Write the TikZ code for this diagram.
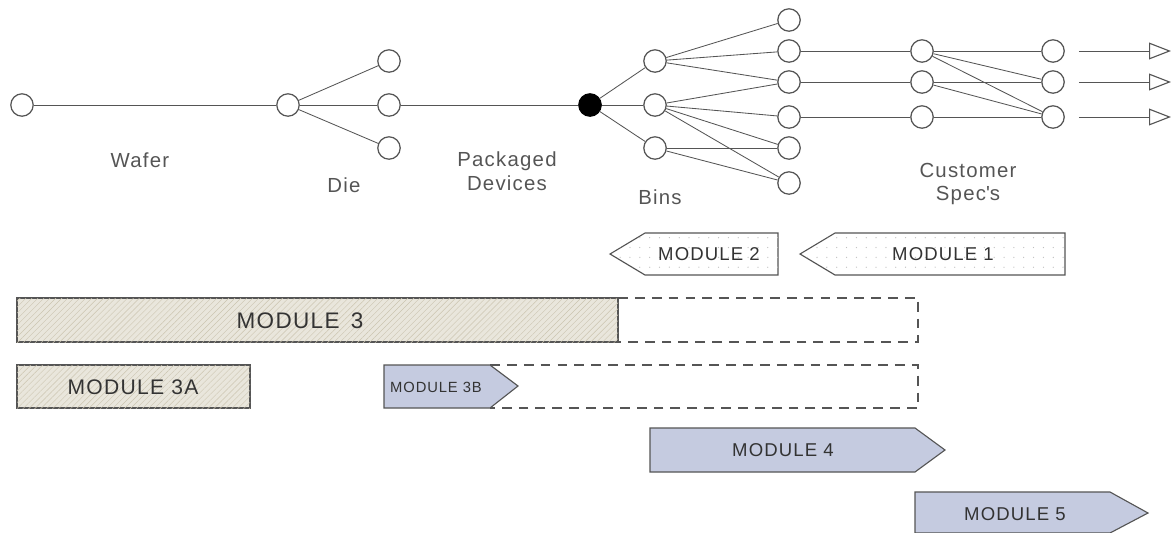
\documentclass[tikz,border=0pt]{standalone}
\usepackage{fontspec}
\setmainfont{Liberation Sans}[LetterSpace=6]
\usetikzlibrary{arrows.meta, patterns.meta}
\definecolor{inkgray}{HTML}{555555}
\definecolor{sand}{HTML}{E9E6DC}
\definecolor{sandline}{HTML}{CBC4B0}
\definecolor{slate}{HTML}{C5CBE0}
\tikzset{
	lot/.style={circle, draw=inkgray, line width=0.9pt, fill=white, minimum size=0.56cm, inner sep=0pt}, % estados del lote
	pkg/.style={lot, fill=black, draw=black}, % dispositivo encapsulado
	flow/.style={draw=inkgray, line width=0.6pt}, % arcos del arbol
	lbl/.style={text=inkgray, font=\fontsize{14.5}{17}\selectfont, align=center},
	modtext/.style={text=black!80, font=\fontsize{13.2}{15}\selectfont},
	sandbox/.style={fill=sand, draw=inkgray, line width=0.8pt,
		postaction={pattern={Lines[angle=45,distance=3pt,line width=0.3pt]}, pattern color=sandline}},
	specbox/.style={fill=white, draw=inkgray, line width=0.8pt,
		postaction={pattern={Dots[distance=7pt,radius=0.45pt]}, pattern color=black!25}},
	slatebox/.style={fill=slate, draw=inkgray, line width=0.8pt},
	openbox/.style={draw=inkgray, line width=0.8pt, dashed, dash pattern=on 7pt off 5pt},
	outflow/.style={flow, shorten <=0.35cm, -{Triangle[open, length=0.55cm, width=0.42cm, line width=0.8pt]}}
}

\begin{document}
\begin{tikzpicture}[x=0.025cm, y=-0.025cm]
	\useasboundingbox (0,0) rectangle (1172,533);

	% oblea, dados y encapsulado
	\node[lot] (w) at (22,105) {};
	\node[lot] (d0) at (288,105) {};
	\node[lot] (d1) at (389,61) {};
	\node[lot] (d2) at (389,105) {};
	\node[lot] (d3) at (389,148) {};
	\node[pkg] (pk) at (590,105) {};

	% bins
	\node[lot] (b1) at (655,61) {};
	\node[lot] (b2) at (655,105) {};
	\node[lot] (b3) at (655,148) {};
	\foreach \i/\y in {1/20, 2/51, 3/82, 4/117, 5/148, 6/183}
		\node[lot] (l\i) at (789,\y) {};

	% especificaciones del cliente
	\foreach \i/\y in {1/51, 2/82, 3/117} {
		\node[lot] (c\i) at (922,\y) {};
		\node[lot] (s\i) at (1053,\y) {};
		\coordinate (o\i) at (1171,\y);
	}

	\draw[flow] (w) -- (d0)
		(d0) edge (d1) edge (d2) edge (d3)
		(d2) -- (pk)
		(pk) edge (b1) edge (b2) edge (b3)
		(b1) edge (l1) edge (l2) edge (l3)
		(b2) edge (l3) edge (l4) edge (l5) edge (l6)
		(b3) edge (l5) edge (l6)
		(l2) edge (c1) (l3) edge (c2) (l4) edge (c3)
		(c1) edge (s1) edge (s2) edge (s3)
		(c2) edge (s2) edge (s3)
		(c3) edge (s3);
	\foreach \i in {1,2,3}
		\draw[outflow] (s\i) -- (o\i);

	\node[lbl] (wafer) at (140,160) {Wafer};
	\node[lbl] (die) at (344,185) {Die};
	\node[lbl] (packaged) at (507,171) {Packaged\\Devices};
	\node[lbl] (bins) at (660,197) {Bins};
	\node[lbl] (spec) at (968,184) {Customer\\Spec\textquotesingle s};

	% modulos
	\draw[specbox] (610,254) -- (645,233) -- (778,233) -- (778,275) -- (645,275) -- cycle;
	\node[modtext] (m2) at (709,254) {MODULE 2};
	\draw[specbox] (800,254) -- (835,233) -- (1065,233) -- (1065,275) -- (835,275) -- cycle;
	\node[modtext] (m1) at (943,254) {MODULE 1};

	\draw[openbox] (618,298) -- (918,298) -- (918,342) -- (618,342);
	\draw[sandbox] (17,298) rectangle (618,342);
	\node[modtext, font=\fontsize{16}{18}\selectfont] (m3) at (300,321) {MODULE\hspace{0.5em}3};

	\draw[sandbox] (17,365) rectangle (250,408);
	\node[modtext, font=\fontsize{15}{17}\selectfont] (m3a) at (133,387) {MODULE 3A};

	\draw[openbox] (490,365) -- (918,365) -- (918,408) -- (490,408);
	\draw[slatebox] (384,365) -- (490,365) -- (518,386) -- (490,408) -- (384,408) -- cycle;
	\node[modtext, font=\fontsize{10.5}{12}\selectfont] (m3b) at (436,387) {MODULE 3B};

	\draw[slatebox] (650,428) -- (915,428) -- (945,450) -- (915,472) -- (650,472) -- cycle;
	\node[modtext] (m4) at (783,450) {MODULE 4};

	\draw[slatebox] (915,492) -- (1110,492) -- (1148,513) -- (1110,533) -- (915,533) -- cycle;
	\node[modtext] (m5) at (1015,514) {MODULE 5};
\end{tikzpicture}
\end{document}
